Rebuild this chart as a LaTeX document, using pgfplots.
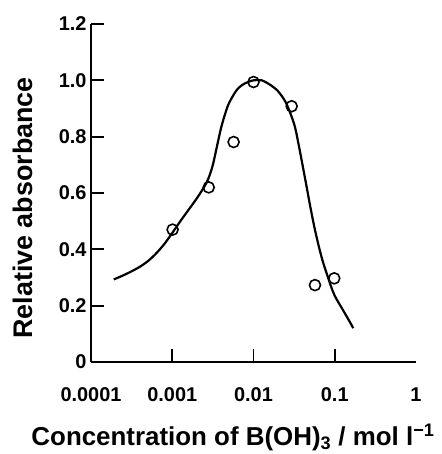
\documentclass[border=0pt]{standalone}
\usepackage{fontspec}
\setmainfont{Liberation Sans}
\usepackage{pgfplots}
\pgfplotsset{compat=1.18}
\begin{document}
\begin{tikzpicture}
\begin{axis}[
  scale only axis,
  width=325bp, height=338bp,
  xmode=log,
  xmin=1e-4, xmax=1,
  ymin=0, ymax=1.2,
  axis lines*=left,
  axis line style={line width=2bp},
  tick align=inside,
  major tick length=13bp,
  tick style={line width=1.8bp, black},
  xminorticks=false,
  xtick={0.001,0.01,0.1},
  xticklabels={0.001,0.01,0.1},
  extra x ticks={0.0001,1},
  extra x tick labels={0.0001,1},
  extra x tick style={major tick length=0pt},
  ytick={0,0.2,0.4,0.6,0.8,1.0,1.2},
  yticklabels={0,0.2,0.4,0.6,0.8,1.0,1.2},
  /pgf/number format/assume math mode=true,
  ticklabel style={font=\fontsize{20}{22}\selectfont\bfseries},
  xticklabel style={yshift=-22bp},
  yticklabel style={xshift=-1bp},
  every axis y label/.style={at={(axis description cs:-0.2108,0.456)}, anchor=center, rotate=90},
  every axis x label/.style={at={(axis description cs:0,0)}, anchor=base, xshift=142bp, yshift=-83bp},
  ylabel={\fontsize{27}{30}\selectfont\bfseries Relative absorbance},
  xlabel={\fontsize{26}{30}\selectfont\bfseries Concentration of B(OH)\textsubscript{3} / mol l\textsuperscript{−1}},
  clip=false,
]
\addplot[black, line width=2.2bp, smooth, tension=0.5, no marks] coordinates {
(1.905e-4,0.293) (2.512e-4,0.308) (3.162e-4,0.322) (3.981e-4,0.338) (5.012e-4,0.358)
(6.310e-4,0.385) (7.943e-4,0.418) (1e-3,0.458) (1.259e-3,0.500) (1.585e-3,0.540)
(1.995e-3,0.580) (2.512e-3,0.625) (2.818e-3,0.655) (3.162e-3,0.700) (3.548e-3,0.765)
(3.981e-3,0.830) (4.467e-3,0.880) (5.012e-3,0.920) (6.310e-3,0.968) (7.943e-3,0.990)
(0.01,1.0) (0.01259,1.0) (0.01585,0.985) (0.01995,0.962) (0.02512,0.920)
(0.03162,0.845) (0.03548,0.780) (0.03981,0.705) (0.04467,0.628) (0.05012,0.550)
(0.05623,0.478) (0.06310,0.415) (0.07079,0.360) (0.07943,0.315) (0.08913,0.272)
(0.1,0.235) (0.1259,0.185) (0.1585,0.135) (0.1687,0.120)
};
\addplot[only marks, mark=o, mark size=5.5bp, mark options={line width=1.6bp, fill=white, draw=black}] coordinates {
(0.00101,0.470) (0.00281,0.620) (0.00569,0.781) (0.0100,0.994) (0.0295,0.908) (0.0571,0.273) (0.0986,0.297)
};
\coordinate (o) at (rel axis cs:0,0);
\end{axis}
\pgfresetboundingbox
\path[use as bounding box] ([shift={(-91bp,-92bp)}]o) rectangle ++(442bp,454bp);
\end{tikzpicture}
\end{document}
